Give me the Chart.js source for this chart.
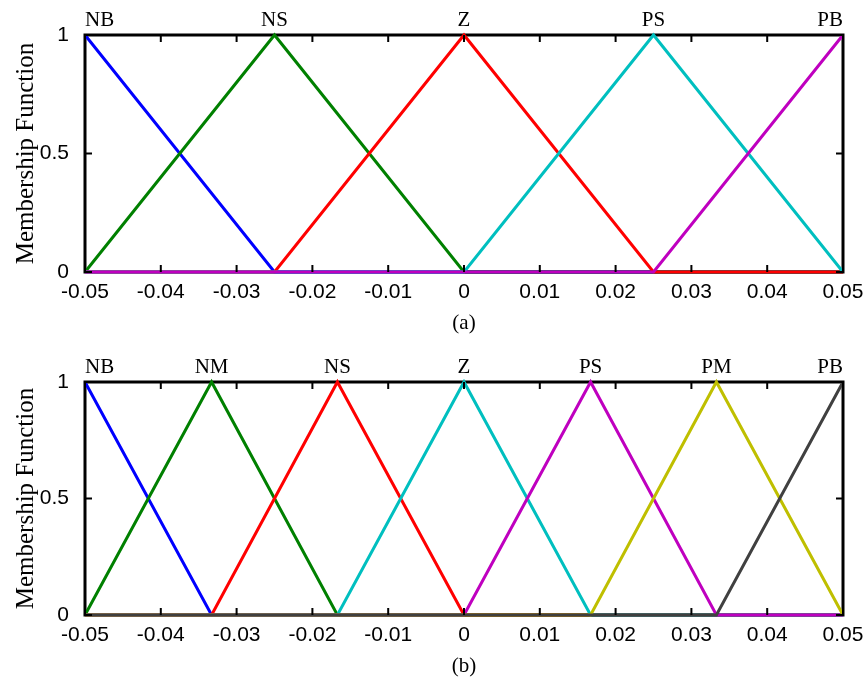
<!DOCTYPE html>
<html>
<head>
<meta charset="utf-8">
<script src="https://cdn.jsdelivr.net/npm/chart.js"></script>
<style>
  body { margin: 0; background: #fff; }
  canvas { position: absolute; left: 0; }
  #mfA { top: 0; }
  #mfB { top: 339px; }
</style>
</head>
<body>
<canvas id="mfA" width="866" height="339"></canvas>
<canvas id="mfB" width="866" height="339"></canvas>
<script>
// shared axes
const xTicks = [-0.05, -0.04, -0.03, -0.02, -0.01, 0, 0.01, 0.02, 0.03, 0.04, 0.05];
const yTicks = [0, 0.5, 1];

// (a) five fuzzy sets, membership at each breakpoint
const breaksA = [-0.05, -0.025, 0, 0.025, 0.05];
const namesA = ["NB", "NS", "Z", "PS", "PB"];
const nbA = [1, 0, 0, 0, 0];
const nsA = [0, 1, 0, 0, 0];
const zA = [0, 0, 1, 0, 0];
const psA = [0, 0, 0, 1, 0];
const pbA = [0, 0, 0, 0, 1];

// (b) seven fuzzy sets
const breaksB = [-0.05, -0.0333, -0.0167, 0, 0.0167, 0.0333, 0.05];
const namesB = ["NB", "NM", "NS", "Z", "PS", "PM", "PB"];
const nbB = [1, 0, 0, 0, 0, 0, 0];
const nmB = [0, 1, 0, 0, 0, 0, 0];
const nsB = [0, 0, 1, 0, 0, 0, 0];
const zB = [0, 0, 0, 1, 0, 0, 0];
const psB = [0, 0, 0, 0, 1, 0, 0];
const pmB = [0, 0, 0, 0, 0, 1, 0];
const pbB = [0, 0, 0, 0, 0, 0, 1];

const colorsA = ["#0000ff", "#008000", "#ff0000", "#00bfbf", "#bf00bf"];
const colorsB = ["#0000ff", "#008000", "#ff0000", "#00bfbf", "#bf00bf", "#bfbf00", "#404040"];

const tickFont = { family: "'Liberation Sans', Arial, sans-serif", size: 21 };
const serif = "'Liberation Serif', 'Times New Roman', serif";

// box, inward ticks, set names, caption and y title
const matlabAxes = {
  id: "matlabAxes",
  beforeDatasetsDraw(chart) {
    const { ctx, chartArea: a } = chart;
    ctx.save();
    ctx.strokeStyle = "#000";
    ctx.lineWidth = 3;
    ctx.strokeRect(a.left, a.top, a.right - a.left, a.bottom - a.top);
    ctx.restore();
  },
  afterDatasetsDraw(chart, args, opts) {
    const { ctx, chartArea: a, scales } = chart;
    const len = 7;
    ctx.save();
    ctx.strokeStyle = "#000";
    ctx.lineWidth = 2;
    ctx.beginPath();
    for (const v of xTicks) {
      const px = scales.x.getPixelForValue(v);
      ctx.moveTo(px, a.top); ctx.lineTo(px, a.top + len);
      ctx.moveTo(px, a.bottom); ctx.lineTo(px, a.bottom - len);
    }
    for (const v of yTicks) {
      const py = scales.y.getPixelForValue(v);
      ctx.moveTo(a.left, py); ctx.lineTo(a.left + len, py);
      ctx.moveTo(a.right, py); ctx.lineTo(a.right - len, py);
    }
    ctx.stroke();

    ctx.fillStyle = "#000";
    ctx.font = "21px " + serif;
    ctx.textBaseline = "alphabetic";
    opts.names.forEach((name, i) => {
      const px = scales.x.getPixelForValue(opts.breaks[i]);
      ctx.textAlign = i === 0 ? "left" : i === opts.names.length - 1 ? "right" : "center";
      ctx.fillText(name, px, a.top - 9);
    });

    ctx.font = "21px " + serif;
    ctx.textAlign = "center";
    ctx.textBaseline = "middle";
    ctx.fillText(opts.caption, (a.left + a.right) / 2, a.bottom + 51);

    ctx.font = "25px " + serif;
    ctx.textBaseline = "alphabetic";
    ctx.translate(33, (a.top + a.bottom) / 2);
    ctx.rotate(-Math.PI / 2);
    ctx.fillText("Membership Function", 0, 0);
    ctx.restore();
  }
};

function makeChart(id, breaks, names, series, colors, caption, top, axisHeight) {
  const datasets = series.map((ys, i) => ({
    data: breaks.map((x, j) => ({ x: x, y: ys[j] })),
    borderColor: colors[i],
    borderWidth: 3,
    pointRadius: 0,
    tension: 0,
    clip: false,
    order: series.length - 1 - i
  }));

  new Chart(document.getElementById(id), {
    type: "line",
    data: { datasets: datasets },
    plugins: [matlabAxes],
    options: {
      responsive: false,
      animation: false,
      devicePixelRatio: 1,
      layout: { padding: { left: 0, right: 23, top: top, bottom: 0 } },
      plugins: {
        legend: { display: false },
        tooltip: { enabled: false },
        matlabAxes: { names: names, breaks: breaks, caption: caption }
      },
      scales: {
        x: {
          type: "linear",
          min: -0.05,
          max: 0.05,
          grid: { display: false },
          border: { display: false },
          afterBuildTicks: (s) => { s.ticks = xTicks.map((v) => ({ value: v })); },
          afterFit: (s) => { s.height = axisHeight; },
          ticks: {
            color: "#000",
            font: tickFont,
            padding: 0,
            maxRotation: 0,
            autoSkip: false,
            callback: (v) => String(v)
          }
        },
        y: {
          min: 0,
          max: 1,
          grid: { display: false },
          border: { display: false },
          afterBuildTicks: (s) => { s.ticks = yTicks.map((v) => ({ value: v })); },
          afterFit: (s) => { s.width = 85; },
          ticks: {
            color: "#000",
            font: tickFont,
            padding: 8,
            callback: (v) => String(v)
          }
        }
      }
    }
  });
}

makeChart("mfA", breaksA, namesA, [nbA, nsA, zA, psA, pbA], colorsA, "(a)", 35, 67);
makeChart("mfB", breaksB, namesB, [nbB, nmB, nsB, zB, psB, pmB, pbB], colorsB, "(b)", 43, 63);
</script>
</body>
</html>
